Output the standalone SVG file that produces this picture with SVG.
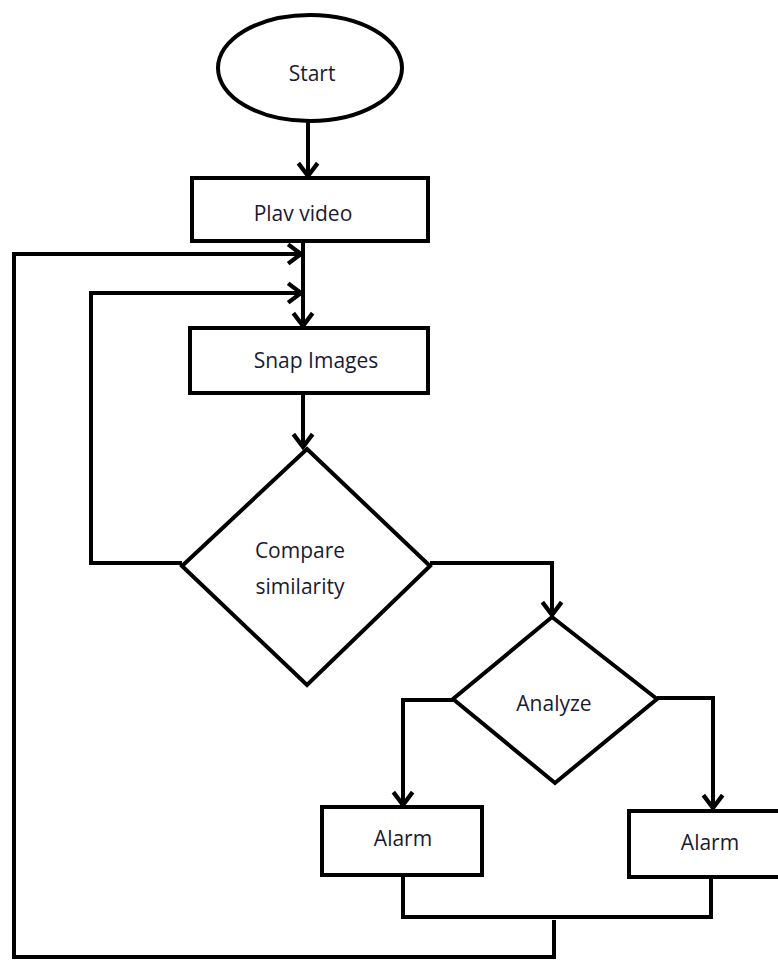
<svg xmlns="http://www.w3.org/2000/svg" width="778" height="961" viewBox="0 0 778 961">
<style>
.shape{fill:#fff;stroke:#000;stroke-width:4}
.conn{fill:none;stroke:#000;stroke-width:4;stroke-linejoin:miter}
.lbl{font-family:"Open Sans","Liberation Sans",sans-serif;font-size:21px;fill:#1a1a33;text-anchor:middle;dominant-baseline:central}
</style>
<defs>
<marker id="arr" markerUnits="userSpaceOnUse" markerWidth="30" markerHeight="30" viewBox="-16 -14 20 28" refX="0" refY="0" orient="auto">
<path d="M-12,-9 L0,0 L-12,9" fill="none" stroke="#000" stroke-width="4"/>
</marker>
</defs>
<rect width="778" height="961" fill="#fff"/>
<g id="connectors">
<path class="conn" d="M308 122 V176" marker-end="url(#arr)"/>
<path class="conn" d="M303 242 V326" marker-end="url(#arr)"/>
<path class="conn" d="M554 920 V957 H14 V254 H301" marker-end="url(#arr)"/>
<path class="conn" d="M182 563 H91 V293 H301" marker-end="url(#arr)"/>
<path class="conn" d="M303 393 V447" marker-end="url(#arr)"/>
<path class="conn" d="M430 563 H552 V615" marker-end="url(#arr)"/>
<path class="conn" d="M453 700 H403 V805" marker-end="url(#arr)"/>
<path class="conn" d="M657 698 H713 V808" marker-end="url(#arr)"/>
<path class="conn" d="M403 875 V917 H711 V877"/>
</g>
<g id="start">
<ellipse class="shape" cx="310" cy="68" rx="92" ry="53"/>
<text class="lbl" x="312" y="73">Start</text>
</g>
<g id="play-video">
<rect class="shape" x="192" y="178" width="236" height="63"/>
<text class="lbl" x="303" y="213">Plav video</text>
</g>
<g id="snap-images">
<rect class="shape" x="190" y="328" width="238" height="65"/>
<text class="lbl" x="316" y="360">Snap Images</text>
</g>
<g id="compare">
<polygon class="shape" points="307,449 430,566 307,685 182,566"/>
<text class="lbl" x="300" y="550">Compare</text>
<text class="lbl" x="300" y="586">similarity</text>
</g>
<g id="analyze">
<polygon class="shape" points="552,617 657,699 555,783 453,699"/>
<text class="lbl" x="554" y="703">Analyze</text>
</g>
<g id="alarm-left">
<rect class="shape" x="322" y="807" width="160" height="68"/>
<text class="lbl" x="403" y="838">Alarm</text>
</g>
<g id="alarm-right">
<rect class="shape" x="629" y="811" width="160" height="66"/>
<text class="lbl" x="710" y="842">Alarm</text>
</g>
</svg>
